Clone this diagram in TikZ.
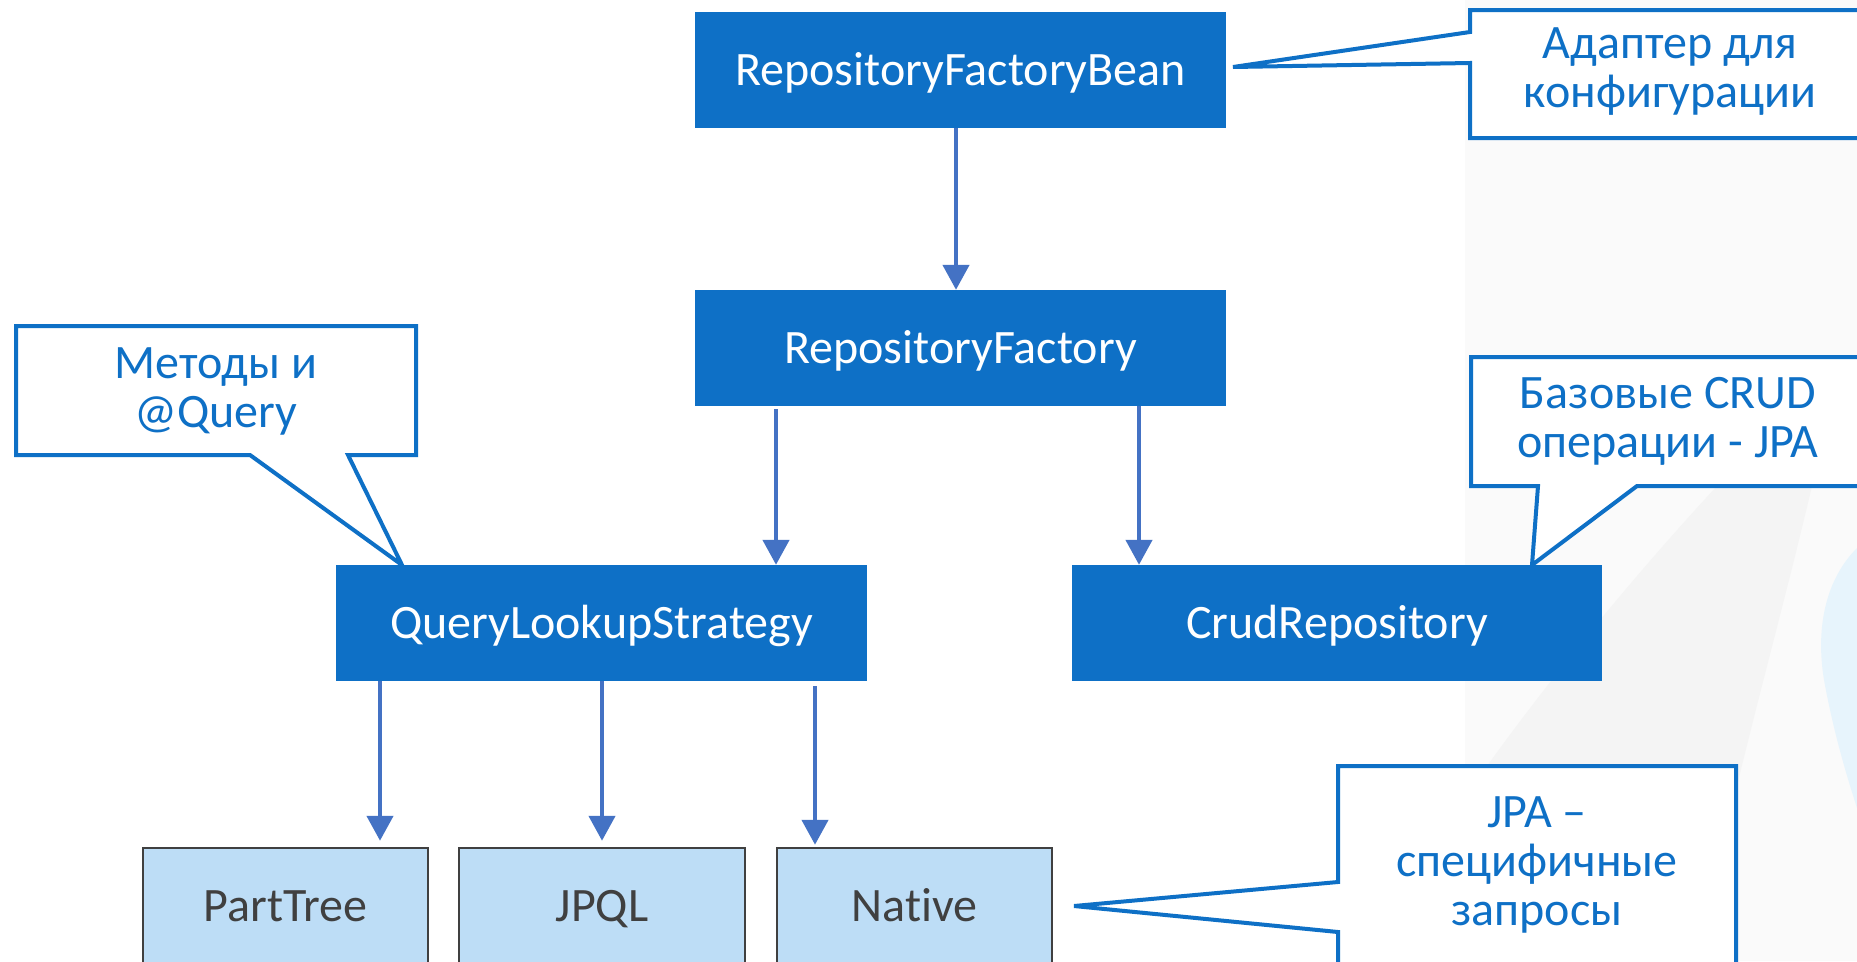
\documentclass[tikz,border=0pt]{standalone}
\usepackage{fontspec}
\setmainfont{Carlito}[Ligatures=NoCommon]
\usetikzlibrary{arrows.meta,calc}
\definecolor{mainblue}{RGB}{14,112,198}
\definecolor{arrowblue}{RGB}{68,114,196}
\definecolor{lightbox}{RGB}{189,221,246}
\definecolor{darkgrey}{RGB}{64,64,64}
\definecolor{offwhite}{RGB}{250,250,250}
\definecolor{bandgrey}{RGB}{244,244,244}
\definecolor{paleblue}{RGB}{231,244,252}
\begin{document}
\begin{tikzpicture}[x=1pt,y=-1pt,
  mainbox/.style={fill=mainblue, text=white, minimum width=531pt, minimum height=116pt,
    inner sep=0pt, text height=31pt, text depth=0pt, font=\fontsize{48}{50}\selectfont},
  subbox/.style={fill=lightbox, draw=darkgrey, line width=2.5pt, text=darkgrey,
    minimum height=116pt, inner sep=0pt, text height=31pt, text depth=0pt,
    font=\fontsize{48}{50}\selectfont},
  flow/.style={draw=arrowblue, line width=4.5pt, -{Triangle[length=25pt,width=26pt]}},
  callout/.style={draw=mainblue, line width=4pt, fill=white, line join=miter},
  callouttext/.style={text=mainblue, align=center, inner sep=0pt,
    font=\fontsize{48}{49}\selectfont}
]
\useasboundingbox (0,0) rectangle (1857,961);
\clip (0,0) rectangle (1857,961);
\fill[white] (0,0) rectangle (1857,961);

% faint background decoration
\fill[offwhite] (1465,0) rectangle (1857,961);
\fill[bandgrey] (1717,486) -- (1812,486)
  .. controls (1785,600) and (1760,690) .. (1736,790)
  -- (1700,961) -- (1470,961) -- (1470,790)
  .. controls (1540,690) and (1630,580) .. cycle;
\fill[paleblue] (1857,548) .. controls (1827,578) and (1815,625) .. (1824,680)
  .. controls (1834,735) and (1848,780) .. (1857,808) -- cycle;

% callouts
\draw[callout] (1470,10) -- (1875,10) -- (1875,138) -- (1470,138) -- (1470,63)
  -- (1233,67) -- (1470,32) -- cycle;
\node[callouttext] (t1) at (1670,72) {Адаптер для\\конфигурации};

\draw[callout] (16,326) -- (416,326) -- (416,455) -- (348,455) -- (402,565)
  -- (250,455) -- (16,455) -- cycle;
\node[callouttext] (t2) at (216,391) {Методы и\\@Query};

\draw[callout] (1471,357) -- (1875,357) -- (1875,486) -- (1637,486) -- (1532,565)
  -- (1538,486) -- (1471,486) -- cycle;
\node[callouttext] (t3) at (1668,421) {Базовые CRUD\\операции - JPA};

\draw[callout] (1338,766) -- (1736,766) -- (1736,990) -- (1338,990) -- (1338,932)
  -- (1074,906) -- (1338,882) -- cycle;
\node[callouttext] (t4) at (1537,865) {JPA –\\специфичные\\запросы};

% main boxes
\node[mainbox] (rfb) at (960.5,70) {RepositoryFactoryBean};
\node[mainbox] (rf) at (960.5,348) {RepositoryFactory};
\node[mainbox] (qls) at (601.5,623) {QueryLookupStrategy};
\node[mainbox, minimum width=530pt] (cr) at (1337,623) {CrudRepository};

\node[subbox, minimum width=285pt] (pt) at (285.5,906) {PartTree};
\node[subbox, minimum width=286pt] (jpql) at (602,906) {JPQL};
\node[subbox, minimum width=275pt] (nat) at (914.5,906) {Native};

% connector columns
\coordinate (c0) at (956,0);
\coordinate (c1) at (776,0);
\coordinate (c2) at (1139,0);
\coordinate (c3) at (380,0);
\coordinate (c4) at (602,0);
\coordinate (c5) at (815,0);

\draw[flow] (rfb.south -| c0) -- (rf.north -| c0);
\draw[flow] ($(rf.south -| c1)+(0,3)$) -- (qls.north -| c1);
\draw[flow] (rf.south -| c2) -- (cr.north -| c2);
\draw[flow] (qls.south -| c3) -- ($(pt.north -| c3)+(0,-6)$);
\draw[flow] (qls.south -| c4) -- ($(jpql.north -| c4)+(0,-6)$);
\draw[flow] ($(qls.south -| c5)+(0,5)$) -- ($(nat.north -| c5)+(0,-2)$);
\end{tikzpicture}
\end{document}
